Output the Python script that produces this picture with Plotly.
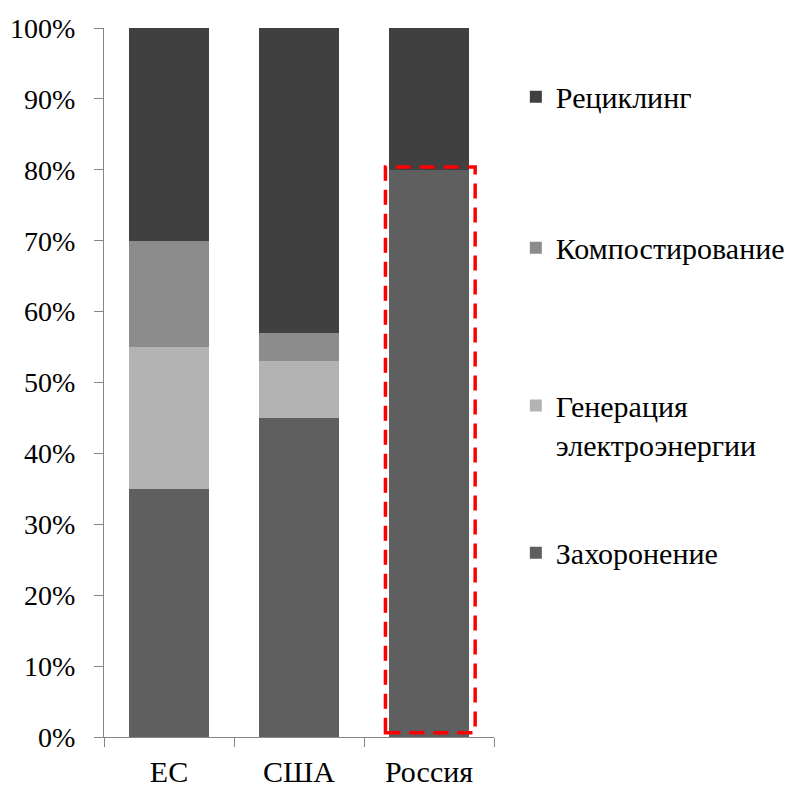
import plotly.graph_objects as go

categories = ["ЕС", "США", "Россия"]
landfill = [35, 45, 80]      # Захоронение
energy = [20, 8, 0]          # Генерация электроэнергии
compost = [15, 4, 0]         # Компостирование
recycling = [30, 43, 20]     # Рециклинг
y_ticks = list(range(0, 101, 10))
y_tick_labels = [f"{v}%" for v in y_ticks]

series = [
    ("Захоронение", landfill, "#5f5f5f"),
    ("Генерация<br>электроэнергии", energy, "#b3b3b3"),
    ("Компостирование", compost, "#8c8c8c"),
    ("Рециклинг", recycling, "#404040"),
]
legend_y = [0.260, 0.440, 0.690, 0.903]

FONT = "Liberation Serif"
fig = go.Figure()
legends = {}
for i, (name, vals, color) in enumerate(series):
    lname = "legend" if i == 0 else f"legend{i + 1}"
    fig.add_trace(go.Bar(
        x=categories, y=vals, name=name, marker=dict(color=color, line=dict(width=0)),
        legend=lname,
    ))
    legends[lname] = dict(
        x=1.056, y=legend_y[i], xanchor="left", yanchor="middle",
        font=dict(family=FONT, size=30, color="#000000"),
        valign="top", itemwidth=30, bgcolor="rgba(0,0,0,0)",
    )

# highlight frame around Russia's landfill share
ri = categories.index("Россия")
fig.add_shape(type="rect", xref="x", yref="y",
              x0=ri - 0.335, x1=ri + 0.355, y0=0.6, y1=landfill[ri] + 0.4,
              line=dict(color="#ff0000", width=3.5, dash="15px,9px"))

fig.update_layout(
    width=795, height=781,
    margin=dict(l=96, r=309, t=20, b=51.5, autoexpand=False),
    barmode="stack", bargap=0.39,
    plot_bgcolor="white", paper_bgcolor="white",
    font=dict(family=FONT, size=30, color="#000000"),
    showlegend=True,
    xaxis=dict(
        type="category", range=[-0.5, 2.5], automargin=False,
        showline=True, linecolor="#868686", linewidth=1,
        ticks="outside", tickson="boundaries", ticklen=9, tickcolor="#868686",
        ticklabelstandoff=8, showgrid=False,
        tickfont=dict(family=FONT, size=30),
    ),
    yaxis=dict(
        range=[0, 100], tickvals=y_ticks, ticktext=y_tick_labels, automargin=False,
        showline=True, linecolor="#868686", linewidth=1,
        ticks="outside", ticklen=9, tickcolor="#868686",
        showgrid=False, zeroline=False, ticklabelstandoff=13,
        tickfont=dict(family=FONT, size=28),
    ),
    **legends,
)

fig.write_html("out.html")
